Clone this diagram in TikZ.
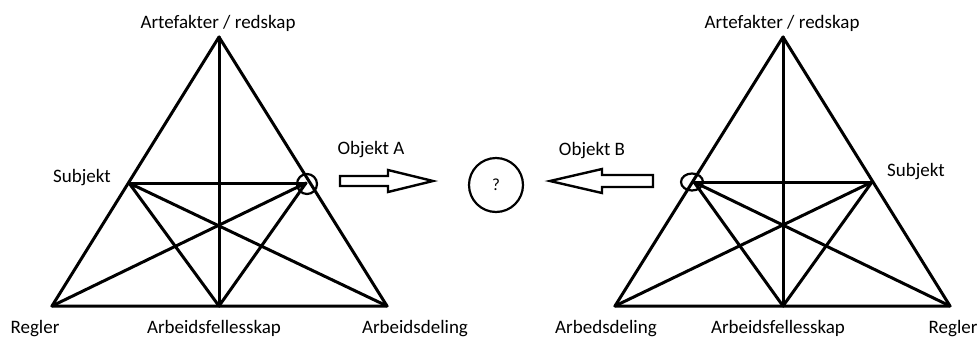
\documentclass[tikz,border=0pt]{standalone}
\usepackage{fontspec}
\setmainfont{Carlito}
\usetikzlibrary{positioning, calc, shapes.geometric}

\begin{document}
\begin{tikzpicture}[
    x=1pt, y=-1pt,
    edge/.style={line width=3pt, line cap=round, line join=round},
    ring/.style={draw, circle, line width=2.2pt, inner sep=0pt, minimum size=20pt},
    blockarr/.style={draw, line width=2.4pt, line join=miter},
    labl/.style={font=\fontsize{19}{22}\selectfont, inner sep=0pt, anchor=base}
]
\useasboundingbox (0,0) rectangle (977,338);

% left triangle
\coordinate (aT) at (219,37);
\coordinate (aL) at (52,306);
\coordinate (aR) at (387,306);
\coordinate (aM) at (219,306);
\coordinate (aS) at (129,183);
\coordinate (aO) at (306,183);

\draw[edge] (aT) -- (aL) -- (aR) -- cycle;
\draw[edge] (aT) -- (aM);
\draw[edge] (aS) -- (aO);
\draw[edge] (aS) -- (aM) (aS) -- (aR);
\draw[edge] (aO) -- (aL) (aO) -- (aM);
\node[ring] (ringA) at (307,184) {};

% right triangle
\coordinate (bT) at (783,37);
\coordinate (bL) at (615,306);
\coordinate (bR) at (950,306);
\coordinate (bM) at (783,306);
\coordinate (bO) at (694,182);
\coordinate (bS) at (872,182);

\draw[edge] (bT) -- (bL) -- (bR) -- cycle;
\draw[edge] (bT) -- (bM);
\draw[edge] (bO) -- (bS);
\draw[edge] (bO) -- (bM) (bO) -- (bR);
\draw[edge] (bS) -- (bL) (bS) -- (bM);
\node[ring, ellipse, minimum width=22pt, minimum height=17pt] (ringB) at (692,182) {};

% shared object in the middle
\node[ring, minimum size=54pt, font=\fontsize{17}{19}\selectfont] (obj) at (496,185) {?};

% block arrows
\coordinate (arrA) at (340,181);
\coordinate (arrB) at (653,181);
\draw[blockarr] ($(arrA)+(0,-5)$) -- ++(48,0) -- ++(0,-6) -- ++(45,11)
    -- ++(-45,11) -- ++(0,-6) -- ++(-48,0) -- cycle;
\draw[blockarr] ($(arrB)+(0,-6)$) -- ++(-51,0) -- ++(0,-6) -- ++(-52,12)
    -- ++(52,12) -- ++(0,-6) -- ++(51,0) -- cycle;

% labels
\node[labl] (artA)  at (218,28)  {Artefakter / redskap};
\node[labl] (subjA) at (82,182)  {Subjekt};
\node[labl] (regA)  at (35,333)  {Regler};
\node[labl] (fellA) at (214,333) {Arbeidsfellesskap};
\node[labl] (delA)  at (415,333) {Arbeidsdeling};
\node[labl] (objA)  at (371,154) {Objekt A};

\node[labl] (objB)  at (592,155) {Objekt B};
\node[labl] (artB)  at (782,28)  {Artefakter / redskap};
\node[labl] (subjB) at (916,176) {Subjekt};
\node[labl] (delB)  at (606,333) {Arbedsdeling};
\node[labl] (fellB) at (778,333) {Arbeidsfellesskap};
\node[labl] (regB)  at (953,333) {Regler};
\end{tikzpicture}
\end{document}
